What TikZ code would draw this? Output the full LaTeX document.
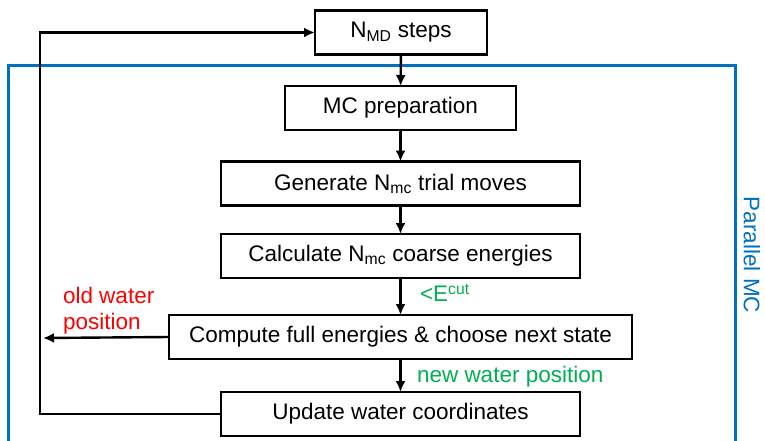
\documentclass[tikz,border=0pt]{standalone}
\usepackage{fontspec}
\setmainfont{Liberation Sans}
\usepackage{tikz}
\usetikzlibrary{shapes,arrows.meta,calc}
\usepackage{color}
\definecolor{mcblue}{RGB}{0,112,192}
\definecolor{mcgreen}{RGB}{0,176,80}
\definecolor{mcred}{RGB}{255,0,0}

\begin{document}
\begin{tikzpicture}[x=1pt, y=-1pt, outer sep=0pt, >={Latex[length=11pt,width=10pt]},
    block/.style={draw, line width=2.4pt, minimum height=44pt, inner sep=0pt,
      font=\fontsize{22.5}{26}\selectfont},
    note/.style={font=\fontsize{22.5}{26}\selectfont, inner sep=0pt}]
\useasboundingbox (0, 0) rectangle (765, 441);

% parallel MC frame (open at the bottom)
\draw [mcblue, line width=3pt] (8, 441) |- (735, 66) -- (735, 441);
\node [note, mcblue, rotate=-90] at (752, 255) (PAR) {Parallel MC};

\node [block, minimum width=172pt] at (401, 32.5) (NMD) {N\textsubscript{MD} steps};
\node [block, minimum width=231pt] at (400.5, 108) (PREP) {MC preparation};
\node [block, minimum width=359pt] at (400.5, 183.5) (GEN) {Generate N\textsubscript{mc} trial moves};
\node [block, minimum width=359pt] at (400.5, 256) (CALC) {Calculate N\textsubscript{mc} coarse energies};
\node [block, minimum width=463pt] at (400.5, 337) (COMP) {Compute full energies \& choose next state};
\node [block, minimum width=359pt] at (400.5, 414) (UPD) {Update water coordinates};

\coordinate (LOOP) at (40, 200);
\coordinate (OLD) at (43, 338);

    \draw [->, line width=2.4pt] (NMD) -- (PREP);
    \draw [->, line width=2.4pt] (PREP) -- (GEN);
    \draw [->, line width=2.4pt] (GEN) -- (CALC);
    \draw [->, line width=2.4pt] (CALC) -- (COMP);
    \draw [->, line width=2.4pt] (COMP) -- (UPD);
    \draw [->, line width=2.4pt] (UPD.west) -| (LOOP) |- (NMD.west);
    \draw [->, line width=2.4pt] (COMP.west) -- (OLD);

\node [note, mcgreen, anchor=west] at (420, 293) (CUT) {\textless E\textsuperscript{cut}};
\node [note, mcgreen, anchor=west] at (417, 377) (NEW) {new water position};
\node [note, mcred, align=left, anchor=west] at (63, 311) (OLDPOS) {old water\\position};
\end{tikzpicture}
\end{document}
